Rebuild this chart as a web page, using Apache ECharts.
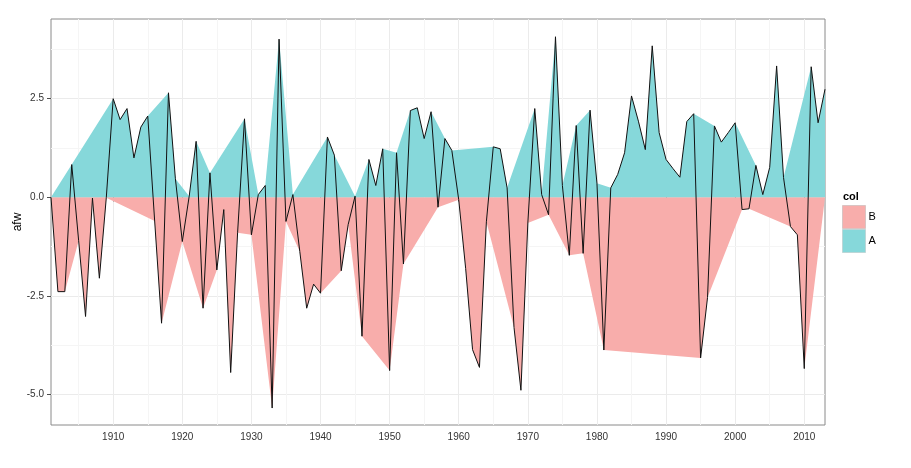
<!DOCTYPE html>
<html>
<head>
<meta charset="utf-8">
<script src="https://cdn.jsdelivr.net/npm/echarts@6/dist/echarts.min.js"></script>
<style>html,body{margin:0;padding:0;background:#fff}#c{width:911px;height:468px}</style>
</head>
<body>
<div id="c"></div>
<script>
const years = [];
for (let y = 1901; y <= 2013; y++) years.push(y);
const afw = [
  0.0, -2.39, -2.39, 0.83, -1.1, -3.02, -0.02, -2.05, -0.01,          // 1901-1909
  2.50, 1.97, 2.25, 1.00, 1.78, 2.06, -0.6, -3.19, 2.65, 0.47,        // 1910-1919
  -1.12, 0.03, 1.42, -2.81, 0.62, -1.84, -0.31, -4.44, -0.9, 1.99,    // 1920-1929
  -0.95, 0.07, 0.30, -5.34, 4.01, -0.61, 0.07, -1.37, -2.81, -2.2,    // 1930-1939
  -2.43, 1.53, 1.07, -1.86, -0.69, 0.03, -3.52, 0.96, 0.30, 1.23,     // 1940-1949
  -4.39, 1.13, -1.69, 2.20, 2.27, 1.49, 2.17, -0.25, 1.49, 1.19,      // 1950-1959
  -0.06, -1.8, -3.86, -4.31, -0.62, 1.28, 1.23, 0.24, -3.3, -4.89,    // 1960-1969
  -0.65, 2.25, 0.07, -0.44, 4.07, 0.3, -1.47, 1.82, -1.42, 2.21,      // 1970-1979
  0.36, -3.87, 0.24, 0.58, 1.13, 2.57, 1.93, 1.21, 3.84, 1.64,        // 1980-1989
  0.96, 0.73, 0.51, 1.92, 2.12, -4.07, -2.54, 1.81, 1.40, 1.64,       // 1990-1999
  1.89, -0.31, -0.29, 0.81, 0.07, 0.76, 3.33, 0.5, -0.74, -0.95,      // 2000-2009
  -4.34, 3.31, 1.89, 2.74                                             // 2010-2013
];
const xTickLabels = [1910, 1920, 1930, 1940, 1950, 1960, 1970, 1980, 1990, 2000, 2010];
const yTickLabels = [-5, -2.5, 0, 2.5];
const xMinorGrid = [1905, 1915, 1925, 1935, 1945, 1955, 1965, 1975, 1985, 1995, 2005];
const yMinorGrid = [-3.75, -1.25, 1.25, 3.75];
const legendNames = ['B', 'A'];

const pink = '#F8ADAB', cyan = '#86D8DA';

// A: non-negative points; B: negative points; both polygons start at the first (zero) point,
// B closes at the right edge on the baseline as in the reference.
const seriesA = [], seriesB = [];
years.forEach((y, i) => {
  const v = afw[i];
  if (i === 0) { seriesA.push([y, v]); seriesB.push([y, v]); return; }
  if (v >= 0) seriesA.push([y, v]); else seriesB.push([y, v]);
});
seriesB.push([years[years.length - 1], 0]);
const lineData = years.map((y, i) => [y, afw[i]]);

const chart = echarts.init(document.getElementById('c'), null, {renderer: 'canvas'});
const font = 'Liberation Sans, Arial, Helvetica, sans-serif';
chart.setOption({
  animation: false,
  backgroundColor: '#fff',
  grid: {left: 51, right: 86, top: 19, bottom: 43, outerBoundsMode: 'none', containLabel: false,
         show: true, borderColor: '#8a8a8a', borderWidth: 1, backgroundColor: 'transparent'},
  xAxis: {
    type: 'value', min: 1901, max: 2013, minInterval: 10, maxInterval: 10,
    axisLine: {show: false},
    axisTick: {show: true, customValues: xTickLabels, length: 4, lineStyle: {color: '#4d4d4d', width: 1}},
    axisLabel: {customValues: xTickLabels, color: '#333', fontSize: 10, fontFamily: font, margin: 7, formatter: v => String(v)},
    splitLine: {show: true, lineStyle: {color: '#ebebeb', width: 1}}
  },
  yAxis: {
    type: 'value', min: -5.77, max: 4.52, minInterval: 2.5, maxInterval: 2.5,
    name: 'afw', nameLocation: 'middle', nameGap: 27, nameRotate: 90, nameMoveOverlap: false,
    nameTextStyle: {color: '#000', fontSize: 12, fontFamily: font},
    axisLine: {show: false},
    axisTick: {show: true, customValues: yTickLabels, length: 4, lineStyle: {color: '#4d4d4d', width: 1}},
    axisLabel: {customValues: yTickLabels, color: '#333', fontSize: 10, fontFamily: font, margin: 7, formatter: v => v.toFixed(1)},
    splitLine: {show: true, lineStyle: {color: '#ebebeb', width: 1}}
  },
  legend: {
    data: [{name: 'B', itemStyle: {color: pink, borderColor: '#d9c4c3', borderWidth: 1}},
           {name: 'A', itemStyle: {color: cyan, borderColor: '#bcd6d7', borderWidth: 1}}],
    orient: 'vertical', left: 842, top: 205, itemWidth: 23, itemHeight: 23, itemGap: 0,
    icon: 'rect', textStyle: {color: '#000', fontSize: 11, fontFamily: font, padding: [0, 0, 0, -2]},
    padding: 0, selectedMode: false
  },
  graphic: [{type: 'text', left: 843, top: 191, style: {text: 'col', font: 'bold 11px ' + font, fill: '#000'}}],
  series: [
    {type: 'line', name: 'grid-minor', silent: true, z: 1, data: [], symbol: 'none',
     markLine: {silent: true, z: 1, symbol: 'none', label: {show: false}, animation: false,
       lineStyle: {color: '#f5f5f5', width: 1, type: 'solid'},
       data: xMinorGrid.map(v => ({xAxis: v})).concat(yMinorGrid.map(v => ({yAxis: v})))}},
    {type: 'line', name: 'B', data: seriesB, symbol: 'none', showSymbol: false, z: 2,
     itemStyle: {color: pink}, lineStyle: {width: 0, color: pink}, areaStyle: {color: pink, opacity: 1}},
    {type: 'line', name: 'A', data: seriesA, symbol: 'none', showSymbol: false, z: 2,
     itemStyle: {color: cyan}, lineStyle: {width: 0, color: cyan}, areaStyle: {color: cyan, opacity: 1}},
    {type: 'line', name: 'afw', data: lineData, symbol: 'none', showSymbol: false, z: 3,
     lineStyle: {color: '#111', width: 1}, itemStyle: {color: '#111'}}
  ]
});
</script>
</body>
</html>
